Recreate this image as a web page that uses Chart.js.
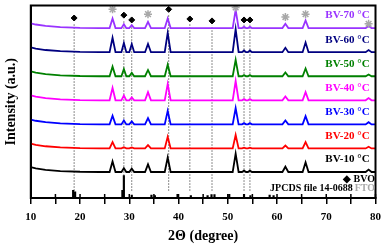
<!DOCTYPE html>
<html>
<head>
<meta charset="utf-8">
<script src="https://cdn.jsdelivr.net/npm/chart.js@4"></script>
<style>
  body { margin: 0; background: #fff; }
  #wrap { width: 389px; height: 246px; }
</style>
</head>
<body>
<div id="wrap"><canvas id="xrd"></canvas></div>
<script>
// 2-theta grid shared by all patterns
const twoTheta = [10, 11, 13, 16, 20, 24, 26.0, 26.6, 27.2, 28.4, 28.9, 29.4, 30.0, 30.5, 31.0,
    33.2, 33.8, 34.4, 37.2, 37.8, 38.4, 44, 51.0, 51.6, 52.2, 52.9, 53.3, 53.7, 54.1, 54.5, 54.9,
    58, 61.1, 61.7, 62.3, 65.2, 65.8, 66.4, 78.0, 78.6, 79.2, 80];

// intensities (relative to its own baseline)
const bv10 = [0.2,0.15,0.09,0.04,0.01,0,0,0.44,0,0,0.16,0,0,0.14,0,0,0.32,0,0,0.6,0,0,0,0.76,0,0,0.06,0,0,0.06,0,0,0,0.22,0,0,0.4,0,0,0.1,0,0];
const bv20 = [0.2,0.15,0.09,0.04,0.01,0,0,0.26,0,0,0.05,0,0,0.04,0,0,0.14,0,0,0.48,0,0,0,0.56,0,0,0.03,0,0,0.03,0,0,0,0.12,0,0,0.26,0,0,0.07,0,0];
const bv30 = [0.2,0.15,0.09,0.04,0.01,0,0,0.36,0,0,0.16,0,0,0.12,0,0,0.26,0,0,0.56,0,0,0,0.68,0,0,0.05,0,0,0.05,0,0,0,0.16,0,0,0.34,0,0,0.09,0,0];
const bv40 = [0.2,0.15,0.09,0.04,0.01,0,0,0.52,0,0,0.2,0,0,0.12,0,0,0.34,0,0,0.68,0,0,0,0.8,0,0,0.05,0,0,0.05,0,0,0,0.16,0,0,0.34,0,0,0.09,0,0];
const bv50 = [0.2,0.15,0.09,0.04,0.01,0,0,0.4,0,0,0.3,0,0,0.14,0,0,0.26,0,0,0.48,0,0,0,0.68,0,0,0.05,0,0,0.05,0,0,0,0.16,0,0,0.32,0,0,0.07,0,0];
const bv60 = [0.2,0.15,0.09,0.04,0.01,0,0,0.6,0,0,0.38,0,0,0.34,0,0,0.34,0,0,0.8,0,0,0,0.96,0,0,0.07,0,0,0.07,0,0,0,0.18,0,0,0.4,0,0,0.09,0,0];
const bv70 = [0.2,0.15,0.09,0.04,0.01,0,0,0.4,0,0,0.16,0,0,0.12,0,0,0.26,0,0,0.4,0,0,0,0.76,0,0,0.05,0,0,0.05,0,0,0,0.18,0,0,0.32,0,0,0.09,0,0];

const seriesNames = ['BV-10 °C', 'BV-20 °C', 'BV-30 °C', 'BV-40 °C', 'BV-50 °C', 'BV-60 °C', 'BV-70 °C'];
const seriesValues = [bv10, bv20, bv30, bv40, bv50, bv60, bv70];
const seriesOffsets = [1.08, 2.06, 3.06, 4.06, 5.06, 6.06, 7.06];
const seriesColors = ['#000000', '#ff0000', '#0000ff', '#ff00ff', '#008000', '#000080', '#9933ff'];

// JCPDS 14-0688 stick pattern
const refPos = [18.6, 19.0, 28.6, 28.9, 30.5, 34.5, 35.2, 39.8, 42.5, 45.9, 46.7, 47.3, 50.3, 53.3, 54.6, 58.5, 59.3];
const refHeight = [0.32, 0.26, 0.32, 0.93, 0.12, 0.12, 0.1, 0.15, 0.1, 0.1, 0.14, 0.14, 0.15, 0.15, 0.1, 0.12, 0.1];

// peak markers
const bvoPos = [18.8, 28.9, 30.5, 38.0, 42.3, 46.8, 53.3, 54.5];
const bvoMarkY = [7.48, 7.6, 7.4, 7.84, 7.44, 7.36, 7.4, 7.4];
const ftoPos = [26.6, 33.8, 51.6, 61.7, 65.8, 78.6];
const ftoMarkY = [7.84, 7.64, 7.92, 7.52, 7.64, 7.24];

const xTicks = [10, 20, 30, 40, 50, 60, 70, 80];

const serif = '"Liberation Serif", "Times New Roman", serif';

const datasets = [];

// markers on top
datasets.push({
    type: 'scatter',
    data: bvoPos.map((x, i) => ({ x: x, y: bvoMarkY[i] })),
    pointStyle: 'rectRot',
    pointRadius: 3,
    backgroundColor: '#000',
    borderColor: '#000',
    borderWidth: 1,
    order: 0
});
datasets.push({
    type: 'scatter',
    data: ftoPos.map((x, i) => ({ x: x, y: ftoMarkY[i] })),
    pointStyle: 'star',
    pointRadius: 4,
    borderColor: '#a8a8a8',
    borderWidth: 1.5,
    order: 0
});

// the patterns
seriesValues.forEach((vals, s) => {
    datasets.push({
        type: 'line',
        data: twoTheta.map((x, i) => ({ x: x, y: vals[i] + seriesOffsets[s] })),
        borderColor: seriesColors[s],
        borderWidth: 1.8,
        pointRadius: 0,
        tension: 0,
        fill: false,
        order: 1
    });
});

// reference sticks
datasets.push({
    type: 'bar',
    data: refPos.map((x, i) => ({ x: x, y: refHeight[i] })),
    backgroundColor: '#000',
    barThickness: 1.5,
    order: 2
});

// dotted guides for BVO reflections
bvoPos.forEach((x, i) => {
    datasets.push({
        type: 'line',
        data: [{ x: x, y: 0.3 }, { x: x, y: bvoMarkY[i] - 0.2 }],
        borderColor: '#666',
        borderWidth: 1,
        borderDash: [1.5, 1.5],
        pointRadius: 0,
        fill: false,
        order: 3
    });
});

const labelPlugin = {
    id: 'labels',
    afterDraw(chart) {
        const { ctx, chartArea, scales } = chart;
        ctx.save();
        // frame
        ctx.strokeStyle = '#000';
        ctx.lineWidth = 2;
        ctx.strokeRect(chartArea.left, chartArea.top, chartArea.right - chartArea.left, chartArea.bottom - chartArea.top);

        // inward half of the x ticks
        ctx.lineWidth = 1.5;
        ctx.beginPath();
        scales.x.ticks.forEach(t => {
            const px = scales.x.getPixelForValue(t.value);
            ctx.moveTo(px, chartArea.bottom);
            ctx.lineTo(px, chartArea.bottom - 4);
        });
        ctx.stroke();

        // series names
        ctx.font = 'bold 11px ' + serif;
        ctx.textAlign = 'right';
        ctx.textBaseline = 'middle';
        seriesNames.forEach((name, s) => {
            ctx.fillStyle = seriesColors[s];
            ctx.fillText(name, scales.x.getPixelForValue(78.8), scales.y.getPixelForValue(seriesOffsets[s] + 0.52));
        });

        // key
        ctx.font = 'bold 10px ' + serif;
        ctx.fillStyle = '#000';
        ctx.fillText('\u25C6 BVO', scales.x.getPixelForValue(79.9), scales.y.getPixelForValue(0.76));
        ctx.fillStyle = '#a8a8a8';
        ctx.fillText('* FTO', scales.x.getPixelForValue(79.9), scales.y.getPixelForValue(0.38));
        ctx.fillStyle = '#000';
        ctx.fillText('JPCDS file 14-0688', scales.x.getPixelForValue(75.4), scales.y.getPixelForValue(0.38));
        ctx.restore();
    }
};

new Chart(document.getElementById('xrd'), {
    data: { datasets: datasets },
    options: {
        responsive: true,
        maintainAspectRatio: false,
        animation: false,
        layout: { padding: { left: 2, right: 6, top: 3, bottom: 0 } },
        plugins: {
            legend: { display: false },
            tooltip: { enabled: false }
        },
        scales: {
            x: {
                type: 'linear',
                min: 10,
                max: 80,
                offset: false,
                grid: { offset: false, drawOnChartArea: false, color: '#000', lineWidth: 1.5, tickLength: 6 },
                border: { color: '#000', width: 2 },
                ticks: {
                    stepSize: 5,
                    color: '#000',
                    padding: 8,
                    maxRotation: 0,
                    font: { family: serif, size: 11, weight: 'bold', lineHeight: 1 },
                    callback: (v) => xTicks.includes(v) ? v : ''
                },
                title: {
                    display: true,
                    text: '2\u0398 (degree)',
                    color: '#000',
                    padding: { top: -2, bottom: 3 },
                    font: { family: serif, size: 14, weight: 'bold', lineHeight: 1 }
                }
            },
            y: {
                min: 0,
                max: 8,
                grid: { display: false },
                border: { color: '#000', width: 2 },
                ticks: { display: false },
                title: {
                    display: true,
                    text: 'Intensity (a.u.)',
                    color: '#000',
                    padding: { top: 1, bottom: 3 },
                    font: { family: serif, size: 14, weight: 'bold' }
                }
            }
        }
    },
    plugins: [labelPlugin]
});
</script>
</body>
</html>
